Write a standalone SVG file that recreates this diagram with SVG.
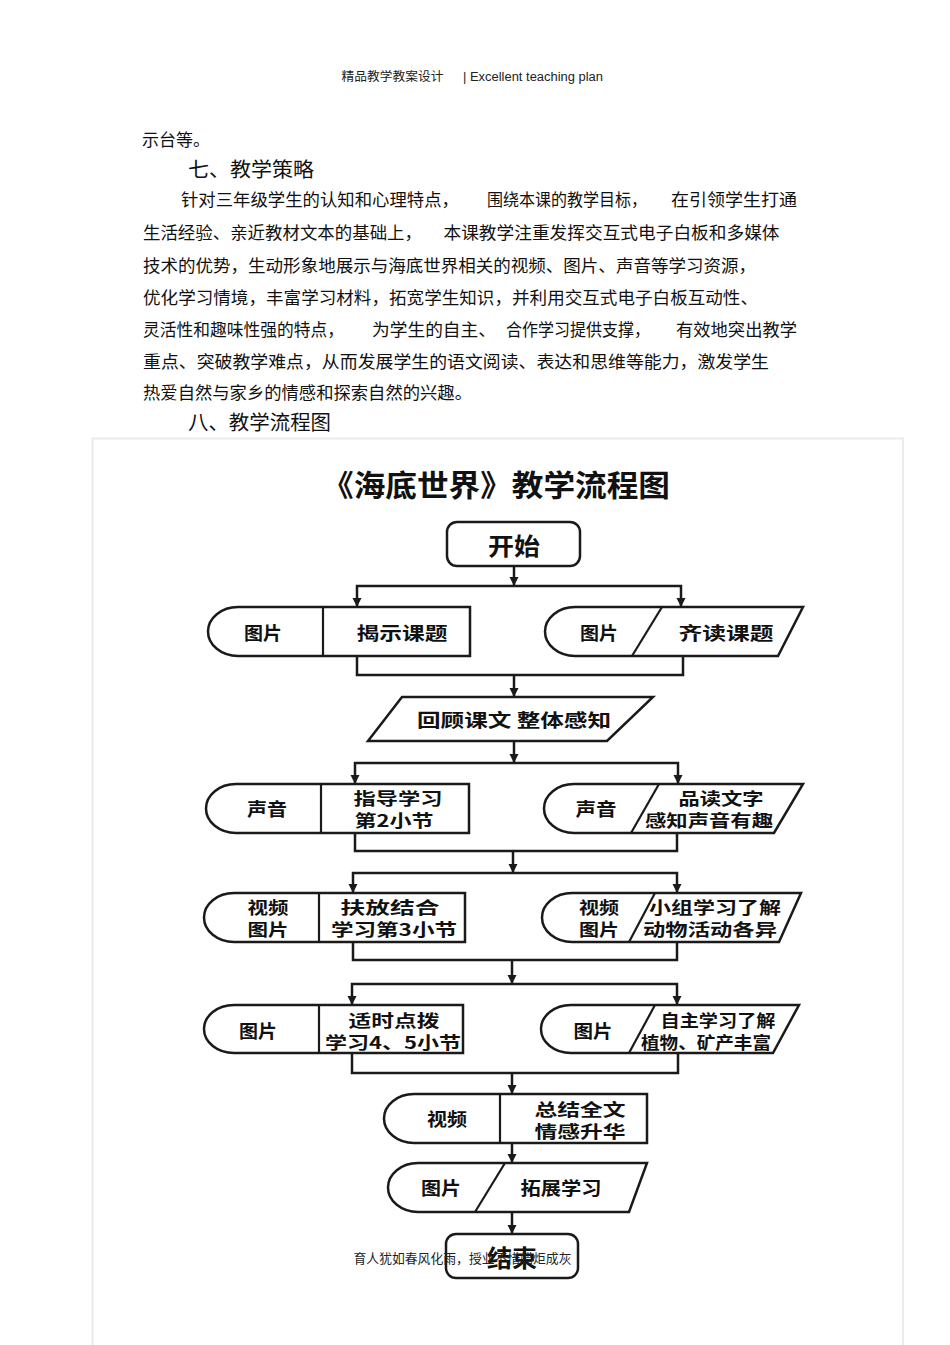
<svg xmlns="http://www.w3.org/2000/svg" width="950" height="1345" viewBox="0 0 950 1345">
<defs>
<style>
.hd{font-family:"Noto Sans CJK SC","Liberation Sans",sans-serif;font-size:12.5px;fill:#222}
.en{font-family:"Liberation Sans","Noto Sans CJK SC",sans-serif;font-size:12.5px;fill:#222}
.bd{font-family:"Noto Sans CJK SC",sans-serif;font-size:17px;fill:#111;dominant-baseline:central}
.h2{font-family:"Noto Sans CJK SC",sans-serif;font-size:20.5px;fill:#111;dominant-baseline:central}
.tt{font-family:"Noto Sans CJK SC",sans-serif;font-size:30px;font-weight:bold;fill:#111;dominant-baseline:central;text-anchor:middle}
.lb{font-family:"Noto Sans CJK SC",sans-serif;font-size:18px;font-weight:bold;fill:#111;dominant-baseline:central;text-anchor:middle}
.l2{font-family:"Noto Sans CJK SC",sans-serif;font-size:16.5px;font-weight:bold;fill:#111;dominant-baseline:central;text-anchor:middle}
.big{font-family:"Noto Sans CJK SC",sans-serif;font-size:24px;font-weight:bold;fill:#111;dominant-baseline:central;text-anchor:middle}
.sh{fill:#fff;stroke:#1a1a1a;stroke-width:2.5;stroke-linejoin:miter}
.dv{fill:none;stroke:#1a1a1a;stroke-width:2.2}
.cn{fill:none;stroke:#1a1a1a;stroke-width:2.5}
.ft{font-family:"Noto Sans CJK SC",sans-serif;font-size:13px;fill:#222;dominant-baseline:central}
</style>
<marker id="ah" viewBox="0 0 10 10" refX="10" refY="5" markerWidth="9" markerHeight="10" markerUnits="userSpaceOnUse" orient="auto-start-reverse"><path d="M0,0 L10,5 L0,10 z" fill="#1a1a1a"/></marker>
</defs>
<rect width="950" height="1345" fill="#fff"/>

<g id="header">
<text class="hd" x="341.6" y="81" textLength="102" lengthAdjust="spacingAndGlyphs">精品教学教案设计</text>
<text class="en" x="463" y="81" textLength="140" lengthAdjust="spacingAndGlyphs">| Excellent teaching plan</text>
</g>

<g id="body-text">
<text class="bd" x="142" y="138">示台等。</text>
<text class="h2" x="188" y="168" textLength="126" lengthAdjust="spacingAndGlyphs">七、教学策略</text>
<text class="bd" x="181" y="198" textLength="278" lengthAdjust="spacingAndGlyphs">针对三年级学生的认知和心理特点，</text>
<text class="bd" x="487" y="198" textLength="160" lengthAdjust="spacingAndGlyphs">围绕本课的教学目标，</text>
<text class="bd" x="671" y="198" textLength="126" lengthAdjust="spacingAndGlyphs">在引领学生打通</text>
<text class="bd" x="143" y="231" textLength="279" lengthAdjust="spacingAndGlyphs">生活经验、亲近教材文本的基础上，</text>
<text class="bd" x="443.5" y="231" textLength="336" lengthAdjust="spacingAndGlyphs">本课教学注重发挥交互式电子白板和多媒体</text>
<text class="bd" x="143" y="264" textLength="613" lengthAdjust="spacingAndGlyphs">技术的优势，生动形象地展示与海底世界相关的视频、图片、声音等学习资源，</text>
<text class="bd" x="143" y="296" textLength="615" lengthAdjust="spacingAndGlyphs">优化学习情境，丰富学习材料，拓宽学生知识，并利用交互式电子白板互动性、</text>
<text class="bd" x="143" y="328" textLength="201" lengthAdjust="spacingAndGlyphs">灵活性和趣味性强的特点，</text>
<text class="bd" x="372" y="328" textLength="124" lengthAdjust="spacingAndGlyphs">为学生的自主、</text>
<text class="bd" x="506" y="328" textLength="144" lengthAdjust="spacingAndGlyphs">合作学习提供支撑，</text>
<text class="bd" x="676" y="328" textLength="121" lengthAdjust="spacingAndGlyphs">有效地突出教学</text>
<text class="bd" x="143" y="360" textLength="626" lengthAdjust="spacingAndGlyphs">重点、突破教学难点，从而发展学生的语文阅读、表达和思维等能力，激发学生</text>
<text class="bd" x="143" y="391" textLength="329" lengthAdjust="spacingAndGlyphs">热爱自然与家乡的情感和探索自然的兴趣。</text>
<text class="h2" x="188" y="421" textLength="143" lengthAdjust="spacingAndGlyphs">八、教学流程图</text>
</g>

<rect id="frame" x="92.5" y="438.5" width="810.5" height="930" fill="none" stroke="#ebebeb" stroke-width="2"/>

<text id="title" class="tt" x="496" y="483" textLength="348" lengthAdjust="spacingAndGlyphs">《海底世界》教学流程图</text>

<g id="connectors">
<path class="cn" d="M514,566 V586" marker-end="url(#ah)"/>
<path class="cn" d="M357,607 V586 H681 V607" marker-start="url(#ah)" marker-end="url(#ah)"/>
<path class="cn" d="M357,656 V675 H683 V656"/>
<path class="cn" d="M514,675 V697" marker-end="url(#ah)"/>
<path class="cn" d="M514,741 V763" marker-end="url(#ah)"/>
<path class="cn" d="M355,784 V763 H678 V784" marker-start="url(#ah)" marker-end="url(#ah)"/>
<path class="cn" d="M355,833 V851 H677 V833"/>
<path class="cn" d="M513,851 V873" marker-end="url(#ah)"/>
<path class="cn" d="M353,893 V873 H677 V893" marker-start="url(#ah)" marker-end="url(#ah)"/>
<path class="cn" d="M353,942 V960 H677 V942"/>
<path class="cn" d="M512,960 V984" marker-end="url(#ah)"/>
<path class="cn" d="M352,1005 V984 H677 V1005" marker-start="url(#ah)" marker-end="url(#ah)"/>
<path class="cn" d="M352,1053 V1073 H678 V1053"/>
<path class="cn" d="M512,1073 V1094" marker-end="url(#ah)"/>
<path class="cn" d="M512,1143 V1163" marker-end="url(#ah)"/>
<path class="cn" d="M512,1212 V1234" marker-end="url(#ah)"/>
</g>

<g id="start">
<rect class="sh" x="447" y="522" width="133" height="44" rx="10"/>
<text class="big" x="514" y="544" textLength="52" lengthAdjust="spacingAndGlyphs">开始</text>
</g>

<g id="row1-left">
<path class="sh" d="M238,607 H470 V656 H238 A30,24.5 0 0 1 238,607 Z"/>
<path class="dv" d="M323,607 V656"/>
<text class="lb" x="263" y="632" textLength="38" lengthAdjust="spacingAndGlyphs">图片</text>
<text class="lb" x="402" y="632" textLength="91" lengthAdjust="spacingAndGlyphs">揭示课题</text>
</g>
<g id="row1-right">
<path class="sh" d="M575,607 H803 L778,656 H575 A30,24.5 0 0 1 575,607 Z"/>
<path class="dv" d="M662,607 L632,656"/>
<text class="lb" x="599" y="632" textLength="38" lengthAdjust="spacingAndGlyphs">图片</text>
<text class="lb" x="726" y="632" textLength="95" lengthAdjust="spacingAndGlyphs">齐读课题</text>
</g>

<g id="review">
<path class="sh" d="M402,697 H653 L607,741 H368 Z"/>
<text class="lb" x="514" y="719" textLength="194" lengthAdjust="spacingAndGlyphs">回顾课文 整体感知</text>
</g>

<g id="row2-left">
<path class="sh" d="M236,784 H469 V833 H236 A30,24.5 0 0 1 236,784 Z"/>
<path class="dv" d="M321,784 V833"/>
<text class="lb" x="267" y="808" textLength="40" lengthAdjust="spacingAndGlyphs">声音</text>
<text class="l2" x="398" y="798" textLength="89" lengthAdjust="spacingAndGlyphs">指导学习</text>
<text class="l2" x="394" y="820" textLength="79" lengthAdjust="spacingAndGlyphs">第2小节</text>
</g>
<g id="row2-right">
<path class="sh" d="M574,784 H803 L774,833 H574 A30,24.5 0 0 1 574,784 Z"/>
<path class="dv" d="M659,784 L631,833"/>
<text class="lb" x="596" y="808" textLength="41" lengthAdjust="spacingAndGlyphs">声音</text>
<text class="l2" x="721" y="798" textLength="85" lengthAdjust="spacingAndGlyphs">品读文字</text>
<text class="l2" x="709" y="820" textLength="128" lengthAdjust="spacingAndGlyphs">感知声音有趣</text>
</g>

<g id="row3-left">
<path class="sh" d="M234,893 H465 V942 H234 A30,24.5 0 0 1 234,893 Z"/>
<path class="dv" d="M319,893 V942"/>
<text class="l2" x="268" y="907" textLength="41" lengthAdjust="spacingAndGlyphs">视频</text>
<text class="l2" x="268" y="929" textLength="41" lengthAdjust="spacingAndGlyphs">图片</text>
<text class="l2" x="390" y="907" textLength="99" lengthAdjust="spacingAndGlyphs">扶放结合</text>
<text class="l2" x="394" y="929" textLength="126" lengthAdjust="spacingAndGlyphs">学习第3小节</text>
</g>
<g id="row3-right">
<path class="sh" d="M572,893 H801 L779,942 H572 A30,24.5 0 0 1 572,893 Z"/>
<path class="dv" d="M655,893 L629,942"/>
<text class="l2" x="599" y="907" textLength="40" lengthAdjust="spacingAndGlyphs">视频</text>
<text class="l2" x="599" y="929" textLength="40" lengthAdjust="spacingAndGlyphs">图片</text>
<text class="l2" x="715" y="907" textLength="132" lengthAdjust="spacingAndGlyphs">小组学习了解</text>
<text class="l2" x="710" y="929" textLength="134" lengthAdjust="spacingAndGlyphs">动物活动各异</text>
</g>

<g id="row4-left">
<path class="sh" d="M234,1005 H463 V1053 H234 A30,24 0 0 1 234,1005 Z"/>
<path class="dv" d="M319,1005 V1053"/>
<text class="lb" x="258" y="1030" textLength="38" lengthAdjust="spacingAndGlyphs">图片</text>
<text class="l2" x="394" y="1020" textLength="91" lengthAdjust="spacingAndGlyphs">适时点拨</text>
<text class="l2" x="393" y="1042" textLength="136" lengthAdjust="spacingAndGlyphs">学习4、5小节</text>
</g>
<g id="row4-right">
<path class="sh" d="M571,1005 H799 L773,1053 H571 A30,24 0 0 1 571,1005 Z"/>
<path class="dv" d="M655,1005 L629,1053"/>
<text class="lb" x="593" y="1030" textLength="39" lengthAdjust="spacingAndGlyphs">图片</text>
<text class="l2" x="718" y="1020" textLength="115" lengthAdjust="spacingAndGlyphs">自主学习了解</text>
<text class="l2" x="706" y="1042" textLength="130" lengthAdjust="spacingAndGlyphs">植物、矿产丰富</text>
</g>

<g id="summary">
<path class="sh" d="M414,1094 H647 V1143 H414 A30,24.5 0 0 1 414,1094 Z"/>
<path class="dv" d="M500,1094 V1143"/>
<text class="lb" x="447" y="1118" textLength="40" lengthAdjust="spacingAndGlyphs">视频</text>
<text class="l2" x="580" y="1109" textLength="91" lengthAdjust="spacingAndGlyphs">总结全文</text>
<text class="l2" x="580" y="1131" textLength="91" lengthAdjust="spacingAndGlyphs">情感升华</text>
</g>

<g id="extend">
<path class="sh" d="M418,1163 H647 L629,1212 H418 A30,24.5 0 0 1 418,1163 Z"/>
<path class="dv" d="M505,1163 L475,1212"/>
<text class="lb" x="441" y="1187" textLength="40" lengthAdjust="spacingAndGlyphs">图片</text>
<text class="lb" x="561" y="1187" textLength="81" lengthAdjust="spacingAndGlyphs">拓展学习</text>
</g>

<g id="end">
<rect class="sh" x="446" y="1234" width="132" height="44" rx="10"/>
<text class="big" x="512" y="1256" textLength="50" lengthAdjust="spacingAndGlyphs">结束</text>
</g>

<text id="footer" class="ft" x="353.5" y="1257" textLength="218" lengthAdjust="spacingAndGlyphs">育人犹如春风化雨，授业不惜蜡炬成灰</text>
</svg>
